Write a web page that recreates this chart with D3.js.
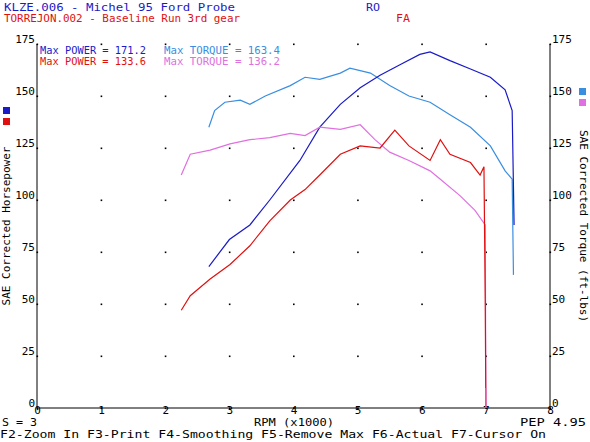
<!DOCTYPE html>
<html><head><meta charset="utf-8">
<script src="https://cdn.jsdelivr.net/npm/d3@7"></script>
<style>body{margin:0;background:#fff}text{font-family:"DejaVu Sans Mono",monospace;font-size:11px}</style>
</head><body><svg id="c" width="590" height="442"></svg>
<script>
// rpm (x1000) and values
var rpmA = [2.68,3.0,3.32,3.63,4.1,4.41,4.73,5.04,5.35,5.66,5.97,6.13,6.44,6.76,7.07,7.3,7.41,7.44];
var powerA = [68,81,88,100,119,135,146,154,160,165,170,171.2,167,163,159,153,143,88];
var rpmTA = [2.68,2.77,2.93,3.17,3.32,3.56,3.95,4.18,4.41,4.73,4.88,5.2,5.5,5.8,6.13,6.44,6.76,7.07,7.3,7.41,7.43];
var torqueA = [135,143,147,148,146,150,155,159,158,161,163.4,161,155,150,147,141,135,126,114,110,64];
var rpmB = [2.25,2.39,2.7,3.01,3.32,3.63,3.95,4.18,4.41,4.73,5.04,5.35,5.58,5.8,6.13,6.29,6.44,6.76,6.91,6.97,6.99,7.0];
var powerB = [47,54,62,69,78,90,100,105,112,122,126,125,133.6,126,119,129,122,118,112,116,52,0];
var rpmTB = [2.25,2.39,2.7,3.01,3.32,3.63,3.95,4.18,4.41,4.73,5.04,5.27,5.5,5.8,6.13,6.29,6.6,6.83,6.99,7.0];
var torqueB = [112,122,124,127,129,130,132,131,135,134,136.2,129,123,119,114,110,102,95,88,0];
var xTicks = [0,1,2,3,4,5,6,7,8];
var yTicks = [0,25,50,75,100,125,150,175];

var svg = d3.select("#c");
var x = d3.scaleLinear().domain([0,8]).range([37,550]);
var y = d3.scaleLinear().domain([0,175]).range([408,44]);

// grid dots
xTicks.forEach(function(a){ yTicks.forEach(function(b){
	svg.append("rect").attr("x",x(a)-0.5).attr("y",y(b)-0.5).attr("width",1.6).attr("height",1.6).attr("fill","#000");
});});

svg.append("g").attr("transform","translate(0,402)")
	.call(d3.axisBottom(x).tickValues(xTicks).tickSize(0).tickPadding(4))
	.call(function(g){ g.select(".domain").remove(); g.selectAll("text").attr("fill","#000").style("font-size","11px"); });
svg.append("g").attr("transform","translate(37,0)")
	.call(d3.axisLeft(y).tickValues(yTicks).tickSize(0).tickPadding(2))
	.call(function(g){ g.select(".domain").remove(); g.selectAll("text").attr("fill","#000").attr("dy","-0.1em").style("font-size","11px"); });
svg.append("g").attr("transform","translate(550,0)")
	.call(d3.axisRight(y).tickValues(yTicks).tickSize(0).tickPadding(2))
	.call(function(g){ g.select(".domain").remove(); g.selectAll("text").attr("fill","#000").attr("dy","-0.1em").style("font-size","11px"); });

svg.append("path").attr("d","M37,44V408H550V44").attr("fill","none").attr("stroke","#000");

var line = d3.line().x(function(d){return x(d[0]);}).y(function(d){return y(d[1]);});
function draw(r,v,col){
	svg.append("path").datum(d3.zip(r,v)).attr("d",line).attr("fill","none").attr("stroke",col).attr("stroke-width",1.2);
}
draw(rpmTA,torqueA,"#3a8ee0");
draw(rpmA,powerA,"#1a1ac8");
draw(rpmTB,torqueB,"#e070e0");
draw(rpmB,powerB,"#e01010");
svg.append("line").attr("x1",x(7)).attr("x2",x(7)).attr("y1",y(0)).attr("y2",y(0)-20).attr("stroke","#e070e0");

function t(xp,yp,s,col,len,anchor){
	var e = svg.append("text").attr("x",xp).attr("y",yp).attr("fill",col).attr("text-anchor",anchor||"start").text(s);
	if (len) e.attr("textLength",len).attr("lengthAdjust","spacingAndGlyphs");
	return e;
}
t(4,11,"KLZE.006 - Michel 95 Ford Probe","#1a1ac8",231);
t(366,11,"RO","#1a1ac8",14);
t(4,22,"TORREJON.002 - Baseline Run 3rd gear","#e01010",236);
t(396,22,"FA","#e01010",14);
t(40,54,"Max POWER = 171.2","#1a1ac8",106);
t(164,54,"Max TORQUE = 163.4","#3a8ee0",116);
t(40,65,"Max POWER = 133.6","#e01010",106);
t(164,65,"Max TORQUE = 136.2","#e070e0",116);
t(2,426,"S = 3","#000",35);
t(254,426,"RPM (x1000)","#000",80);
t(520,426,"PEP 4.95","#000",66);
t(0,438,"F2-Zoom In  F3-Print  F4-Smoothing  F5-Remove Max  F6-Actual  F7-Cursor On","#000",546);
svg.append("text").attr("transform","translate(10,226) rotate(-90)").attr("text-anchor","middle").attr("fill","#000").text("SAE Corrected Horsepower");
svg.append("text").attr("transform","translate(580,226) rotate(90)").attr("text-anchor","middle").attr("fill","#000").text("SAE Corrected Torque (ft-lbs)");
svg.append("rect").attr("x",3).attr("y",107).attr("width",7).attr("height",7).attr("fill","#1a1ac8");
svg.append("rect").attr("x",3).attr("y",118).attr("width",7).attr("height",7).attr("fill","#e01010");
svg.append("rect").attr("x",579).attr("y",88).attr("width",7).attr("height",7).attr("fill","#3a8ee0");
svg.append("rect").attr("x",579).attr("y",99).attr("width",7).attr("height",7).attr("fill","#e070e0");
</script></body></html>
